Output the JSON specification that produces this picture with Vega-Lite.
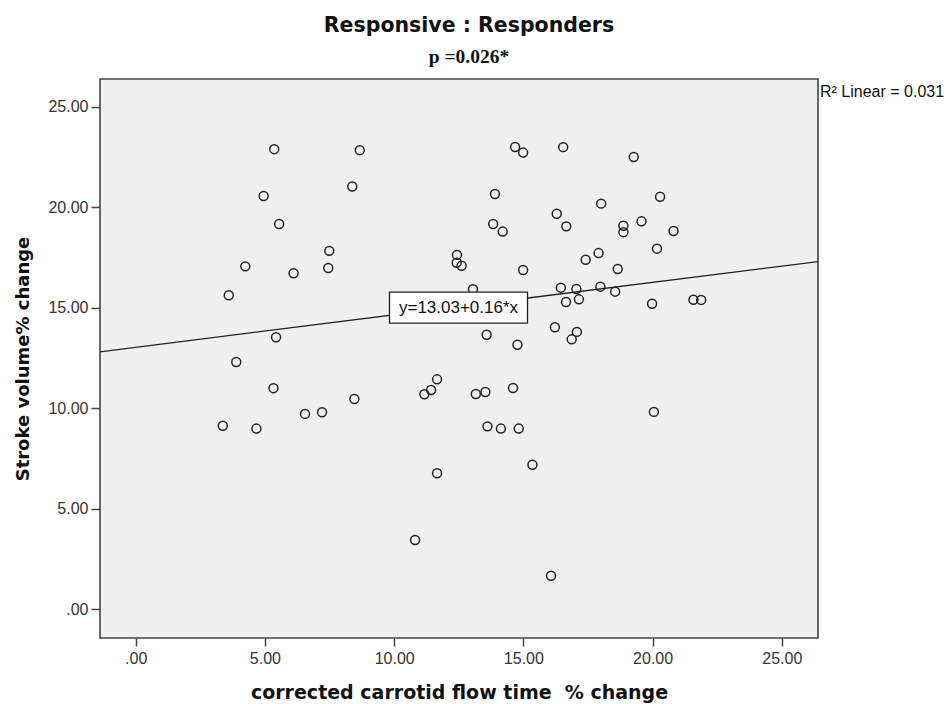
{
  "$schema": "https://vega.github.io/schema/vega-lite/v6.json",
  "width": 718,
  "height": 559,
  "autosize": {"type": "none"},
  "padding": {"left": 100, "top": 79, "right": 131, "bottom": 66},
  "background": "white",
  "title": {
    "text": "Responsive : Responders",
    "subtitle": "p =0.026*",
    "anchor": "middle",
    "dx": 10,
    "offset": 13,
    "font": "DejaVu Sans",
    "fontSize": 20.5,
    "fontWeight": "bold",
    "color": "#111",
    "subtitleFont": "Liberation Serif",
    "subtitleFontSize": 19.5,
    "subtitleFontWeight": "bold",
    "subtitleColor": "#111",
    "subtitlePadding": 11
  },
  "config": {
    "view": {"fill": "#f0f0f0", "stroke": "#444", "strokeWidth": 1.6},
    "axis": {
      "grid": false,
      "domain": false,
      "tickColor": "#444",
      "tickWidth": 1.5,
      "labelFont": "Liberation Sans",
      "labelFontSize": 16,
      "labelColor": "#333",
      "titleFont": "DejaVu Sans",
      "titleFontWeight": "bold",
      "titleColor": "#111"
    }
  },
  "datasets": {
    "points": [
      {"x": 5.36, "y": 22.89}, {"x": 4.95, "y": 20.56}, {"x": 5.55, "y": 19.17}, {"x": 4.24, "y": 17.06},
      {"x": 6.11, "y": 16.72}, {"x": 7.49, "y": 17.83}, {"x": 7.45, "y": 16.98}, {"x": 3.60, "y": 15.62},
      {"x": 5.43, "y": 13.53}, {"x": 3.89, "y": 12.30}, {"x": 5.33, "y": 11.00}, {"x": 3.37, "y": 9.13},
      {"x": 4.67, "y": 8.99}, {"x": 6.55, "y": 9.72}, {"x": 7.21, "y": 9.80}, {"x": 8.46, "y": 10.46},
      {"x": 8.38, "y": 21.03}, {"x": 8.67, "y": 22.84},
      {"x": 14.68, "y": 23.00}, {"x": 14.99, "y": 22.72}, {"x": 16.54, "y": 22.99}, {"x": 19.27, "y": 22.50},
      {"x": 13.90, "y": 20.66}, {"x": 18.01, "y": 20.18}, {"x": 16.29, "y": 19.68}, {"x": 16.66, "y": 19.05},
      {"x": 13.83, "y": 19.17}, {"x": 14.20, "y": 18.79}, {"x": 18.87, "y": 19.08}, {"x": 18.87, "y": 18.76},
      {"x": 19.57, "y": 19.30}, {"x": 12.43, "y": 17.63}, {"x": 12.42, "y": 17.24}, {"x": 12.61, "y": 17.09},
      {"x": 14.99, "y": 16.88}, {"x": 17.41, "y": 17.39}, {"x": 17.91, "y": 17.72}, {"x": 18.65, "y": 16.93},
      {"x": 13.05, "y": 15.92}, {"x": 16.45, "y": 16.00}, {"x": 17.05, "y": 15.93}, {"x": 16.65, "y": 15.29},
      {"x": 17.15, "y": 15.42}, {"x": 17.98, "y": 16.05}, {"x": 18.55, "y": 15.80}, {"x": 20.29, "y": 20.52},
      {"x": 20.81, "y": 18.82}, {"x": 20.17, "y": 17.94}, {"x": 19.98, "y": 15.20}, {"x": 21.58, "y": 15.40},
      {"x": 21.88, "y": 15.39}, {"x": 13.58, "y": 13.66}, {"x": 14.77, "y": 13.16}, {"x": 16.22, "y": 14.03},
      {"x": 17.07, "y": 13.80}, {"x": 16.87, "y": 13.43}, {"x": 11.66, "y": 11.44}, {"x": 11.43, "y": 10.91},
      {"x": 11.17, "y": 10.70}, {"x": 13.16, "y": 10.71}, {"x": 13.53, "y": 10.81}, {"x": 14.60, "y": 11.01},
      {"x": 13.61, "y": 9.10}, {"x": 14.13, "y": 8.99}, {"x": 14.82, "y": 8.99}, {"x": 15.35, "y": 7.19},
      {"x": 11.66, "y": 6.77}, {"x": 10.81, "y": 3.45}, {"x": 16.07, "y": 1.67}, {"x": 20.05, "y": 9.82}
    ],
    "fit": [
      {"x": -1.38, "y": 12.81},
      {"x": 26.40, "y": 17.30}
    ],
    "eq": [
      {"x": 12.49, "y": 15.01, "label": "y=13.03+0.16*x"}
    ],
    "r2": [
      {"label": "R² Linear = 0.031"}
    ]
  },
  "layer": [
    {
      "data": {"name": "points"},
      "mark": {"type": "point", "shape": "circle", "filled": false, "size": 80, "stroke": "#222", "strokeWidth": 1.5, "opacity": 1},
      "encoding": {
        "x": {
          "field": "x", "type": "quantitative",
          "scale": {"domain": [-1.382, 26.40], "nice": false, "zero": false},
          "axis": {
            "values": [0, 5, 10, 15, 20, 25],
            "labelExpr": "datum.value == 0 ? '.00' : format(datum.value, '.2f')",
            "tickSize": 8,
            "labelPadding": 4,
            "title": "corrected carrotid flow time\u00a0 % change",
            "titleFontSize": 19,
            "titleX": 359,
            "titleY": 54,
            "titleBaseline": "middle",
            "titleAlign": "center"
          }
        },
        "y": {
          "field": "y", "type": "quantitative",
          "scale": {"domain": [-1.428, 26.38], "nice": false, "zero": false},
          "axis": {
            "values": [0, 5, 10, 15, 20, 25],
            "labelExpr": "datum.value == 0 ? '.00' : format(datum.value, '.2f')",
            "tickSize": 9,
            "labelPadding": 3,
            "title": "Stroke volume% change",
            "titleFontSize": 18,
            "titleX": -77,
            "titleY": 279.5,
            "titleAngle": -90,
            "titleBaseline": "middle",
            "titleAlign": "center"
          }
        }
      }
    },
    {
      "data": {"name": "fit"},
      "mark": {"type": "line", "color": "#222", "strokeWidth": 1.3, "clip": true},
      "encoding": {
        "x": {"field": "x", "type": "quantitative"},
        "y": {"field": "y", "type": "quantitative"}
      }
    },
    {
      "data": {"name": "eq"},
      "mark": {"type": "point", "shape": "M-1,-0.2246H1V0.2246H-1Z", "size": 19044, "filled": true, "fill": "white", "stroke": "#222", "strokeWidth": 1.3, "opacity": 1},
      "encoding": {
        "x": {"field": "x", "type": "quantitative"},
        "y": {"field": "y", "type": "quantitative"}
      }
    },
    {
      "data": {"name": "eq"},
      "mark": {"type": "text", "font": "Liberation Sans", "fontSize": 17, "color": "#111", "align": "center", "baseline": "middle"},
      "encoding": {
        "x": {"field": "x", "type": "quantitative"},
        "y": {"field": "y", "type": "quantitative"},
        "text": {"field": "label"}
      }
    },
    {
      "data": {"name": "r2"},
      "mark": {"type": "text", "font": "Liberation Sans", "fontSize": 16, "color": "#111", "align": "left", "baseline": "alphabetic", "dx": 2, "dy": 18},
      "encoding": {
        "x": {"datum": 26.40},
        "y": {"datum": 26.38},
        "text": {"field": "label"}
      }
    }
  ]
}
